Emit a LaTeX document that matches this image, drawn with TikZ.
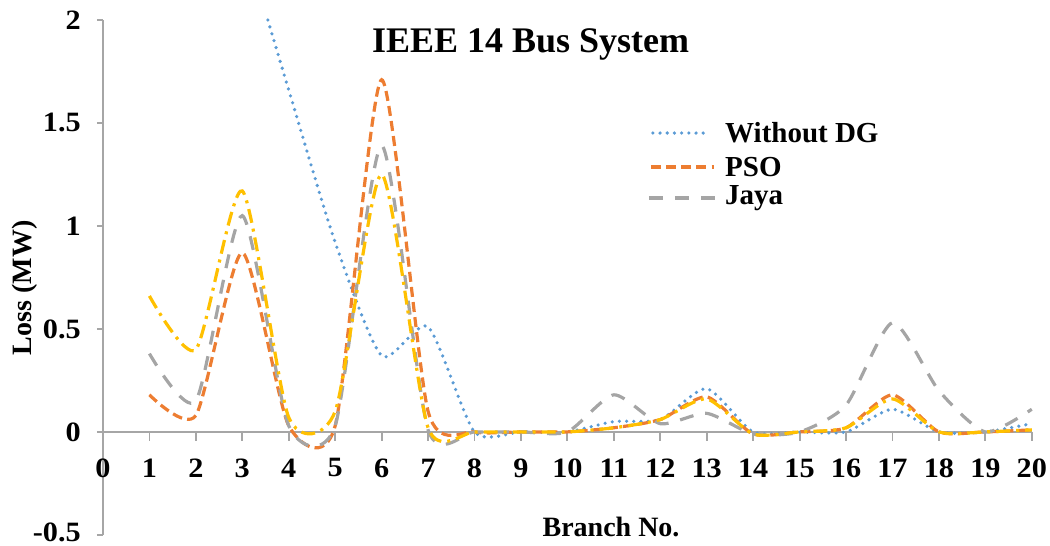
\documentclass[tikz,border=0pt]{standalone}
\usepackage{fontspec}
\setmainfont{Liberation Serif}
\definecolor{axisgray}{HTML}{A6A6A6}
\definecolor{nodgblue}{HTML}{5B9BD5}
\definecolor{psoorange}{HTML}{ED7D31}
\definecolor{jayagray}{HTML}{A5A5A5}
\definecolor{extrayellow}{HTML}{FFC000}
\tikzset{
  axisline/.style={draw=axisgray, line width=0.9pt},
  ticklabel/.style={font=\bfseries\fontsize{14}{16}\selectfont, inner sep=0pt},
  keytext/.style={font=\bfseries\fontsize{14.5}{16}\selectfont, anchor=west, inner sep=0pt},
  nodg/.style={line width=1.8pt, draw=nodgblue, line cap=round, dash pattern=on 0pt off 3.6pt},
  pso/.style={line width=1.6pt, draw=psoorange, dash pattern=on 5pt off 2.6pt},
  jaya/.style={line width=1.6pt, draw=jayagray, dash pattern=on 7pt off 6pt},
  yellowline/.style={line width=1.6pt, draw=extrayellow, dash pattern=on 7pt off 3pt on 1.5pt off 3pt}
}

\begin{document}
\begin{tikzpicture}[x=23.225pt, y=103pt]
\useasboundingbox (-2.2175,-0.5534) rectangle (20.392,2.097);

% axes
\draw[axisline] (0,-0.5) -- (0,2);
\draw[axisline] (0,0) -- (20,0);
\foreach \v in {-0.5,0,0.5,1,1.5,2}
  \draw[axisline] (-0.13,\v) -- (0,\v);
\foreach \i in {1,...,20}
  \draw[axisline] (\i,0) -- (\i,-0.044);

% tick labels
\foreach \v/\t in {-0.488/-0.5,0/0,0.5/0.5,1/1,1.5/1.5,2/2}
  \node[ticklabel, anchor=east] (y\t) at (-0.47,\v) {\scalebox{1.08}[1]{\t}};
\foreach \i in {0,...,20}
  \node[ticklabel] (x\i) at (\i,-0.175) {\scalebox{1.08}[1]{\i}};

% titles
\node[font=\bfseries\fontsize{18}{20}\selectfont] (title) at (9.21,1.879) {IEEE 14 Bus System};
\node[font=\bfseries\fontsize{14}{16}\selectfont] (xlabel) at (10.94,-0.461) {Branch No.};
\node[font=\bfseries\fontsize{14}{16}\selectfont, rotate=90] (ylabel) at (-1.68,0.699) {Loss (MW)};

% series
\draw[nodg] plot[smooth, tension=0.4] coordinates {(3.55,2) (4,1.66) (5,0.92) (6,0.37) (7,0.51) (8,0)
  (9,0) (10,0) (11,0.05) (12,0.06) (13,0.21) (14,0) (15,0) (16,0) (17,0.11) (18,0) (19,0) (20,0.04)};
\draw[pso] plot[smooth, tension=0.4] coordinates {(1,0.18) (2,0.08) (3,0.87) (4,0.03) (5,0.03) (6,1.71) (7,0.1)
  (8,0) (9,0) (10,0) (11,0.02) (12,0.06) (13,0.17) (14,-0.01) (15,0) (16,0.02) (17,0.18) (18,0) (19,0) (20,0.01)};
\draw[jaya] plot[smooth, tension=0.4] coordinates {(1,0.38) (2,0.15) (3,1.05) (4,0.03) (5,0.03) (6,1.39) (7,0.01)
  (8,0) (9,0) (10,0) (11,0.18) (12,0.04) (13,0.09) (14,-0.01) (15,0) (16,0.13) (17,0.53) (18,0.2) (19,0) (20,0.11)};
\draw[yellowline] plot[smooth, tension=0.4] coordinates {(1,0.66) (2,0.4) (3,1.17) (4,0.07) (5,0.1) (6,1.25) (7,0.02)
  (8,0) (9,0) (10,0) (11,0.02) (12,0.06) (13,0.16) (14,-0.01) (15,0) (16,0.02) (17,0.16) (18,0) (19,0) (20,0.01)};

% legend
\node[keytext] (knodg) at (13.39,1.451) {Without DG};
\node[keytext] (kpso) at (13.39,1.286) {PSO};
\node[keytext] (kjaya) at (13.39,1.136) {Jaya};
\draw[nodg] (knodg.west) ++(-36pt,0) -- ++(28.8pt,0);
\draw[pso] (kpso.west) ++(-37pt,0) -- ++(31.4pt,0);
\draw[jaya] (kjaya.west) ++(-38pt,0) -- ++(33pt,0);
\end{tikzpicture}
\end{document}
